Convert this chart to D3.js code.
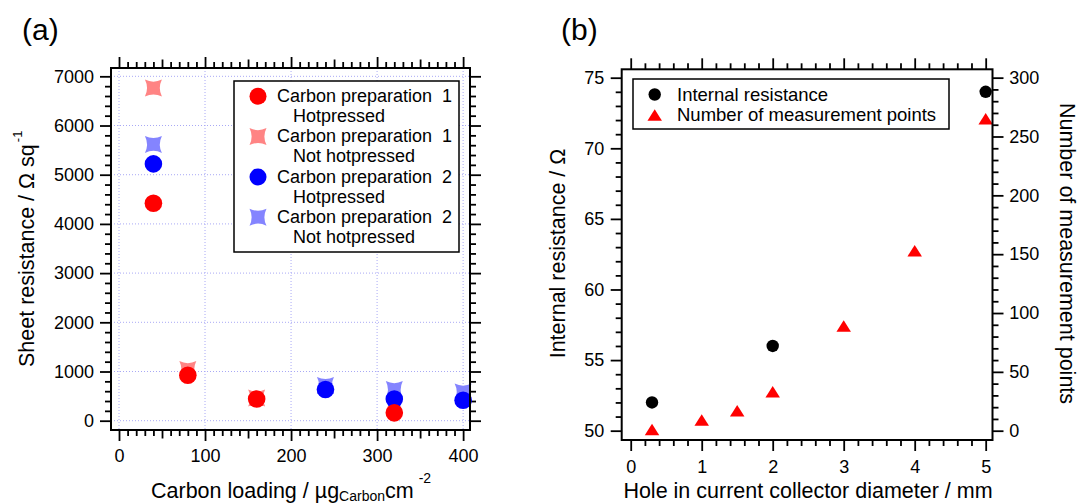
<!DOCTYPE html>
<html><head><meta charset="utf-8">
<script src="https://cdn.jsdelivr.net/npm/d3@7"></script>
<style>
body{margin:0;background:#fff}
svg{display:block;font-family:"Liberation Sans",Arial,sans-serif}
</style></head><body>
<svg id="chart" width="1078" height="503"></svg>
<script>
// ---- Panel (a): sheet resistance vs carbon loading ----
const prep1HotLoading = [40, 80, 160, 320];
const prep1HotResistance = [4420, 925, 442, 160];
const prep1NotLoading = [40, 80, 160];
const prep1NotResistance = [6760, 1040, 460];
const prep2HotLoading = [40, 240, 320, 400];
const prep2HotResistance = [5220, 633, 440, 415];
const prep2NotLoading = [40, 240, 320, 400];
const prep2NotResistance = [5615, 718, 632, 582];
const loadingTicks = [0, 100, 200, 300, 400];
const sheetTicks = [0, 1000, 2000, 3000, 4000, 5000, 6000, 7000];
const legendALines = [
  ["Carbon preparation  1", "Hotpressed"],
  ["Carbon preparation  1", "Not hotpressed"],
  ["Carbon preparation  2", "Hotpressed"],
  ["Carbon preparation  2", "Not hotpressed"]
];

// ---- Panel (b): internal resistance and number of points vs hole diameter ----
const holeDiameterR = [0.3, 2, 5];
const internalResistance = [52, 56, 74];
const holeDiameterN = [0.3, 1, 1.5, 2, 3, 4, 5];
const measurementPoints = [1, 9, 17, 33, 89, 153, 265];
const diameterTicks = [0, 1, 2, 3, 4, 5];
const resistanceTicks = [50, 55, 60, 65, 70, 75];
const pointsTicks = [0, 50, 100, 150, 200, 250, 300];
const legendBLines = ["Internal resistance", "Number of measurement points"];

const svg = d3.select("#chart");
const FONT = '"Liberation Sans", Arial, sans-serif';
const TICK_FS = 18, TITLE_FS = 21.5;
const MAJOR = 11, MEDIUM = 8.5, MINOR = 6;

function minorValues(start, stop, step, exclude) {
  return d3.range(start, stop + step / 2, step)
    .map(v => +v.toFixed(6))
    .filter(v => !exclude.some(e => Math.abs(e - v) < 1e-6));
}

function axis(orient, scale, pos, values, size, labels, pad) {
  const gen = {bottom: d3.axisBottom, top: d3.axisTop, left: d3.axisLeft, right: d3.axisRight}[orient](scale)
    .tickValues(values).tickSizeInner(size).tickSizeOuter(0).tickPadding(pad || 3)
    .tickFormat(labels ? (d => String(d)) : (() => ""));
  const horiz = orient === "bottom" || orient === "top";
  const g = svg.append("g")
    .attr("transform", horiz ? `translate(0,${pos})` : `translate(${pos},0)`)
    .call(gen);
  g.select(".domain").remove();
  g.selectAll("line").attr("stroke", "#000").attr("stroke-width", 1.8);
  g.selectAll("text").attr("font-size", TICK_FS).attr("font-family", FONT).attr("fill", "#000");
  return g;
}

// four-pointed marker with concave sides
function starPath(s) {
  const c = 0.5 * s;
  return `M${-s},${-s}Q0,${-c} ${s},${-s}Q${c},0 ${s},${s}Q0,${c} ${-s},${s}Q${-c},0 ${-s},${-s}Z`;
}
function trianglePath(w, h) {
  return `M0,${-h / 2}L${w / 2},${h / 2}L${-w / 2},${h / 2}Z`;
}

// ================= Panel (a) =================
const xA = d3.scaleLinear().domain([-9.3, 408]).range([111, 470]);
const yA = d3.scaleLinear().domain([-189, 7169]).range([430, 68]);
const [aL, aR] = xA.range(), [aB, aT] = yA.range();

// dotted grid at major ticks
const grid = svg.append("g").attr("stroke", "#a9a9f5").attr("stroke-width", 1).attr("stroke-dasharray", "1,2");
grid.selectAll("line.v").data(loadingTicks).join("line")
  .attr("x1", d => xA(d)).attr("x2", d => xA(d)).attr("y1", aT).attr("y2", aB);
grid.selectAll("line.h").data(sheetTicks).join("line")
  .attr("y1", d => yA(d)).attr("y2", d => yA(d)).attr("x1", aL).attr("x2", aR);

// axes: bottom/top share ticks; left/right share ticks
const loadMedium = [50, 150, 250, 350];
const loadMinor = minorValues(0, 400, 10, loadingTicks.concat(loadMedium));
const sheetMinor = minorValues(0, 7000, 200, sheetTicks);
axis("bottom", xA, aB, loadingTicks, MAJOR, true, 8);
axis("bottom", xA, aB, loadMedium, MEDIUM, false);
axis("bottom", xA, aB, loadMinor, MINOR, false);
axis("top", xA, aT, loadingTicks, MAJOR, false);
axis("top", xA, aT, loadMedium, MEDIUM, false);
axis("top", xA, aT, loadMinor, MINOR, false);
axis("left", yA, aL, sheetTicks, MAJOR, true, 6);
axis("left", yA, aL, sheetMinor, MINOR, false);
axis("right", yA, aR, sheetTicks, MAJOR, false);
axis("right", yA, aR, sheetMinor, MINOR, false);

// markers
const pink = "#ff8484", lightBlue = "#8484ff";
const mA = svg.append("g");
mA.selectAll("path.s2").data(d3.zip(prep2NotLoading, prep2NotResistance)).join("path")
  .attr("d", starPath(8.5)).attr("fill", lightBlue)
  .attr("transform", d => `translate(${xA(d[0])},${yA(d[1])})`);
mA.selectAll("circle.c2").data(d3.zip(prep2HotLoading, prep2HotResistance)).join("circle")
  .attr("cx", d => xA(d[0])).attr("cy", d => yA(d[1])).attr("r", 8.8).attr("fill", "#0000ff");
mA.selectAll("path.s1").data(d3.zip(prep1NotLoading, prep1NotResistance)).join("path")
  .attr("d", starPath(8.5)).attr("fill", pink)
  .attr("transform", d => `translate(${xA(d[0])},${yA(d[1])})`);
mA.selectAll("circle.c1").data(d3.zip(prep1HotLoading, prep1HotResistance)).join("circle")
  .attr("cx", d => xA(d[0])).attr("cy", d => yA(d[1])).attr("r", 8.8).attr("fill", "#ff0000");

// frame
svg.append("rect").attr("x", aL).attr("y", aT).attr("width", aR - aL).attr("height", aB - aT)
  .attr("fill", "none").attr("stroke", "#000").attr("stroke-width", 2);

// legend
const legA = svg.append("g");
legA.append("rect").attr("x", 234).attr("y", 81).attr("width", 225).attr("height", 171)
  .attr("fill", "#fff").attr("stroke", "#000").attr("stroke-width", 1.5);
const legAMarkers = [
  g => g.append("circle").attr("r", 8.5).attr("fill", "#ff0000"),
  g => g.append("path").attr("d", starPath(8.5)).attr("fill", pink),
  g => g.append("circle").attr("r", 8.5).attr("fill", "#0000ff"),
  g => g.append("path").attr("d", starPath(8.5)).attr("fill", lightBlue)
];
legendALines.forEach((lines, i) => {
  const y0 = 96.3 + i * 40.3;
  legAMarkers[i](legA.append("g").attr("transform", `translate(258,${y0})`));
  legA.append("text").attr("x", 277).attr("y", y0 + 5.6).attr("font-size", 18)
    .style("white-space", "pre").text(lines[0]);
  legA.append("text").attr("x", 293).attr("y", y0 + 25.6).attr("font-size", 18).text(lines[1]);
});

// titles
svg.append("text").attr("x", 151).attr("y", 498).attr("font-size", TITLE_FS)
  .call(t => {
    t.append("tspan").text("Carbon loading / µg");
    t.append("tspan").attr("font-size", 14).attr("dy", 3).text("Carbon");
    t.append("tspan").attr("dy", -3).text("cm");
    t.append("tspan").attr("font-size", 14).attr("dy", -15).attr("dx", 5).text("-2");
  });
svg.append("text").attr("transform", "translate(34,367) rotate(-90)").attr("font-size", TITLE_FS)
  .call(t => {
    t.append("tspan").text("Sheet resistance / Ω sq");
    t.append("tspan").attr("font-size", 13).attr("dy", -12).attr("dx", 2).text("-1");
  });
svg.append("text").attr("x", 22).attr("y", 40).attr("font-size", 30).text("(a)");

// ================= Panel (b) =================
const xB = d3.scaleLinear().domain([-0.127, 5.096]).range([621.7, 992.5]);
const yBL = d3.scaleLinear().domain([49.34, 75.595]).range([440, 69.3]);
const yBR = d3.scaleLinear().domain([-7.9, 307.1]).range([440, 69.3]);
const [bL, bR] = xB.range(), [bB, bT] = yBL.range();

const diamMinor = minorValues(0, 5, 0.2, diameterTicks);
const resMinor = minorValues(50, 75, 1, resistanceTicks);
const ptsMinor = minorValues(0, 300, 10, pointsTicks);
axis("bottom", xB, bB, diameterTicks, MAJOR, true, 9.5);
axis("bottom", xB, bB, diamMinor, MINOR, false);
axis("top", xB, bT, diameterTicks, MAJOR, false);
axis("top", xB, bT, diamMinor, MINOR, false);
axis("left", yBL, bL, resistanceTicks, MAJOR, true, 6.5);
axis("left", yBL, bL, resMinor, MINOR, false);
axis("right", yBR, bR, pointsTicks, MAJOR, true, 5.8);
axis("right", yBR, bR, ptsMinor, MINOR, false);

const mB = svg.append("g");
mB.selectAll("circle").data(d3.zip(holeDiameterR, internalResistance)).join("circle")
  .attr("cx", d => xB(d[0])).attr("cy", d => yBL(d[1])).attr("r", 6.2).attr("fill", "#000");
mB.selectAll("path").data(d3.zip(holeDiameterN, measurementPoints)).join("path")
  .attr("d", trianglePath(14.5, 11.5)).attr("fill", "#ff0000")
  .attr("transform", d => `translate(${xB(d[0])},${yBR(d[1])})`);

svg.append("rect").attr("x", bL).attr("y", bT).attr("width", bR - bL).attr("height", bB - bT)
  .attr("fill", "none").attr("stroke", "#000").attr("stroke-width", 2);

const legB = svg.append("g");
legB.append("rect").attr("x", 633).attr("y", 79).attr("width", 316).attr("height", 50)
  .attr("fill", "#fff").attr("stroke", "#000").attr("stroke-width", 1.5);
legB.append("circle").attr("cx", 654.7).attr("cy", 94.5).attr("r", 6.2).attr("fill", "#000");
legB.append("path").attr("d", trianglePath(14.5, 11.5)).attr("fill", "#ff0000")
  .attr("transform", "translate(654.7,115)");
legendBLines.forEach((txt, i) => {
  legB.append("text").attr("x", 677).attr("y", 100.5 + i * 20.5).attr("font-size", 18.5).text(txt);
});

svg.append("text").attr("x", 808).attr("y", 498).attr("font-size", TITLE_FS)
  .attr("text-anchor", "middle").text("Hole in current collector diameter / mm");
svg.append("text").attr("transform", "translate(565,253.5) rotate(-90)").attr("font-size", TITLE_FS)
  .attr("text-anchor", "middle").text("Internal resistance / Ω");
svg.append("text").attr("transform", "translate(1059.5,253.5) rotate(90)").attr("font-size", TITLE_FS)
  .attr("text-anchor", "middle").text("Number of measurement points");
svg.append("text").attr("x", 561).attr("y", 40).attr("font-size", 30).text("(b)");
</script>
</body></html>
